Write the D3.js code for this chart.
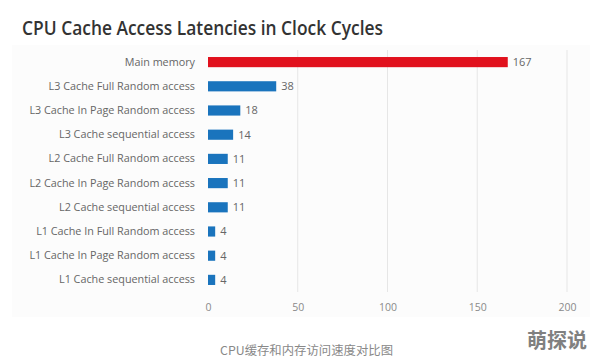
<!DOCTYPE html>
<html><head><meta charset="utf-8">
<script src="https://cdn.jsdelivr.net/npm/d3@7/dist/d3.min.js"></script>
<style>body{margin:0;background:#fff}svg{display:block}</style>
</head><body>
<script>
const categories = ["Main memory","L3 Cache Full Random access","L3 Cache In Page Random access","L3 Cache sequential access","L2 Cache Full Random access","L2 Cache In Page Random access","L2 Cache sequential access","L1 Cache In Full Random access","L1 Cache In Page Random access","L1 Cache sequential access"];
const values = [167,38,18,14,11,11,11,4,4,4];
const xTicks = [0,50,100,150,200];
const title = "CPU Cache Access Latencies in Clock Cycles";
const caption = "CPU缓存和内存访问速度对比图";
const watermark = "萌探说";

const W=594,H=358;
const svg=d3.select("body").append("svg").attr("width",W).attr("height",H);
svg.append("rect").attr("width",W).attr("height",H).attr("fill","#fff");
svg.append("rect").attr("x",12).attr("y",45).attr("width",578).attr("height",272).attr("fill","#fcfcfc");

const x=d3.scaleLinear().domain([0,200]).range([208,567]);
const y=d3.scaleBand().domain(categories).range([50,292]).paddingInner(0.58).paddingOuter(0.29);

svg.append("text").attr("x",22).attr("y",35).text(title)
  .attr("font-family","Open Sans, sans-serif").attr("font-weight",600).attr("font-size",19)
  .attr("fill","#333").attr("textLength",361).attr("lengthAdjust","spacingAndGlyphs");

// grid
svg.append("g").selectAll("line").data(xTicks.filter(d=>d>0)).join("line")
  .attr("x1",d=>x(d)).attr("x2",d=>x(d)).attr("y1",50).attr("y2",292)
  .attr("stroke","#e6e6e6").attr("stroke-width",1);

const xAxis=svg.append("g").attr("transform","translate(0,292)")
  .call(d3.axisBottom(x).tickValues(xTicks).tickSize(0).tickPadding(12));
xAxis.select(".domain").remove();
xAxis.selectAll("text").attr("font-family","Open Sans, sans-serif").attr("font-size",10.5).attr("fill","#8a8a8a");

const yAxis=svg.append("g").attr("transform","translate(208,0)")
  .call(d3.axisLeft(y).tickSize(0).tickPadding(13));
yAxis.select(".domain").remove();
yAxis.selectAll("text").attr("font-family","Open Sans, sans-serif").attr("font-size",10.8).attr("fill","#666");

svg.append("g").selectAll("rect").data(values).join("rect")
  .attr("x",x(0)).attr("y",(d,i)=>y(categories[i]))
  .attr("width",d=>x(d)-x(0)).attr("height",y.bandwidth())
  .attr("fill",(d,i)=>i===0?"#e1111d":"#1a74bd");

svg.append("g").selectAll("text").data(values).join("text")
  .attr("x",d=>x(d)+5).attr("y",(d,i)=>y(categories[i])+y.bandwidth()/2)
  .attr("dy","0.35em").text(d=>d)
  .attr("font-family","Open Sans, sans-serif").attr("font-size",11).attr("fill","#666");

svg.append("text").attr("x",220).attr("y",355).text(caption)
  .attr("font-family","Noto Sans CJK SC, sans-serif").attr("font-size",12).attr("fill","#888")
  .attr("textLength",173).attr("lengthAdjust","spacingAndGlyphs");

svg.append("text").attr("x",527).attr("y",348).text(watermark)
  .attr("font-family","Noto Sans CJK SC, sans-serif").attr("font-weight",700).attr("font-size",20).attr("fill","#808080");
</script>
</body></html>
